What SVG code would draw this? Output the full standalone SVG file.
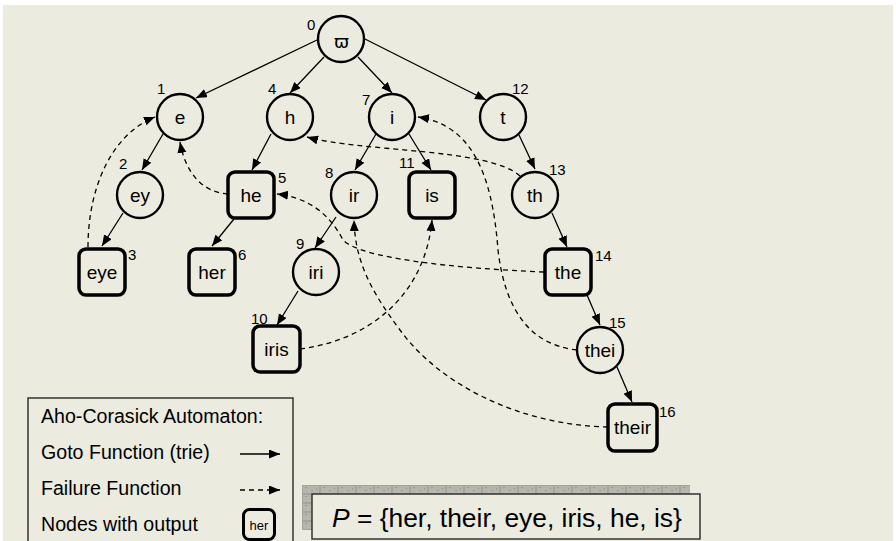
<svg xmlns="http://www.w3.org/2000/svg" width="896" height="541" viewBox="0 0 896 541">
<style>
  .node circle { fill: #EBEBDF; stroke: #000; stroke-width: 2.4; }
  .node rect { fill: #EBEBDF; stroke: #000; stroke-width: 3.5; }
  .lbl { font-family: "Liberation Sans", Arial, sans-serif; font-size: 19px; text-anchor: middle; fill: #000; }
  .num { font-family: "Liberation Sans", Arial, sans-serif; font-size: 15px; fill: #000; }
  .goto { fill: none; stroke: #000; stroke-width: 1.3; marker-end: url(#ah); }
  .fail { fill: none; stroke: #000; stroke-width: 1.3; stroke-dasharray: 5 4; marker-end: url(#ah); }
  .leg { font-family: "Liberation Sans", Arial, sans-serif; font-size: 19.6px; fill: #000; }
</style>
<defs>
  <marker id="ah" markerUnits="userSpaceOnUse" markerWidth="12" markerHeight="10" refX="11" refY="4.5" orient="auto">
    <path d="M0,0 L11,4.5 L0,9 Z" fill="#000"/>
  </marker>
  <pattern id="granite" patternUnits="userSpaceOnUse" width="18" height="9" x="302" y="485">
    <rect width="18" height="9" fill="#A4A49C"/>
    <rect x="1" y="1" width="16" height="7" fill="#B6B6AE"/>
    <rect x="3" y="2" width="2" height="1" fill="#9A9A92"/>
    <rect x="9" y="5" width="2" height="1" fill="#9A9A92"/>
    <rect x="14" y="3" width="1" height="2" fill="#9E9E96"/>
    <rect x="6" y="6" width="1" height="1" fill="#C4C4BC"/>
  </pattern>
</defs>
<rect x="0" y="0" width="896" height="541" fill="#FFFFFF"/>
<rect x="3" y="5" width="890" height="536" fill="#EBEBDF"/>

<g id="connectors">
  <path class="goto" d="M317,40 L196,98"/>
  <path class="goto" d="M324,57 L290,93"/>
  <path class="goto" d="M358,57 L392,93"/>
  <path class="goto" d="M365,39 L486,100"/>
  <path class="goto" d="M163,134 L142,170"/>
  <path class="goto" d="M271,134 L252,170"/>
  <path class="goto" d="M376,134 L355,170"/>
  <path class="goto" d="M409,134 L431,170"/>
  <path class="goto" d="M519,135 L535,169"/>
  <path class="goto" d="M123,213 L102,246"/>
  <path class="goto" d="M234,219 L212,246"/>
  <path class="goto" d="M336,217 L315,248"/>
  <path class="goto" d="M298,291 L277,325"/>
  <path class="goto" d="M552,213 L567,247"/>
  <path class="goto" d="M587,295 L600,325"/>
  <path class="goto" d="M617,367 L632,402"/>
  <path class="fail" d="M88,247 C88,190 110,135 155,117"/>
  <path class="fail" d="M228,194 C200,192 185,170 180,142"/>
  <path class="fail" d="M544,272 C450,268 360,258 343,240 C330,215 310,198 277,194"/>
  <path class="fail" d="M520,176 C490,148 360,152 307,137"/>
  <path class="fail" d="M577,350 C530,345 505,310 498,250 C492,170 470,125 418,117"/>
  <path class="fail" d="M300,349 C370,340 425,295 432,220"/>
  <path class="fail" d="M608,427 C520,425 440,385 400,330 C370,290 355,260 354,220"/>
</g>

<g id="n0" class="node"><circle cx="341" cy="39" r="23"/><text x="341.5" y="48" font-family="DejaVu Sans, sans-serif" font-size="18" text-anchor="middle">ϖ</text><text class="num" x="307" y="30">0</text></g>
<g id="n1" class="node"><circle cx="180" cy="117" r="23"/><text class="lbl" x="180" y="124">e</text><text class="num" x="157" y="94">1</text></g>
<g id="n4" class="node"><circle cx="290" cy="117" r="23"/><text class="lbl" x="290" y="124">h</text><text class="num" x="268" y="94">4</text></g>
<g id="n7" class="node"><circle cx="392" cy="117" r="23"/><text class="lbl" x="392" y="124">i</text><text class="num" x="362" y="105">7</text></g>
<g id="n12" class="node"><circle cx="503" cy="117" r="23"/><text class="lbl" x="503" y="124">t</text><text class="num" x="512" y="94">12</text></g>
<g id="n2" class="node"><circle cx="140" cy="195" r="23"/><text class="lbl" x="140" y="202">ey</text><text class="num" x="119" y="169">2</text></g>
<g id="n5" class="node"><rect x="228" y="172" width="46" height="46" rx="7"/><text class="lbl" x="251" y="202">he</text><text class="num" x="278" y="183">5</text></g>
<g id="n8" class="node"><circle cx="354" cy="195" r="23"/><text class="lbl" x="354" y="202">ir</text><text class="num" x="325" y="178">8</text></g>
<g id="n11" class="node"><rect x="409" y="172" width="46" height="46" rx="7"/><text class="lbl" x="432" y="202">is</text><text class="num" x="399" y="168">11</text></g>
<g id="n13" class="node"><circle cx="535" cy="195" r="23"/><text class="lbl" x="535" y="202">th</text><text class="num" x="549" y="175">13</text></g>
<g id="n3" class="node"><rect x="79" y="249" width="46" height="46" rx="7"/><text class="lbl" x="102" y="279">eye</text><text class="num" x="128" y="260">3</text></g>
<g id="n6" class="node"><rect x="189" y="249" width="46" height="46" rx="7"/><text class="lbl" x="212" y="279">her</text><text class="num" x="238" y="260">6</text></g>
<g id="n9" class="node"><circle cx="316" cy="272" r="23"/><text class="lbl" x="316" y="279">iri</text><text class="num" x="296" y="249">9</text></g>
<g id="n14" class="node"><rect x="545" y="249" width="46" height="46" rx="7"/><text class="lbl" x="568" y="279">the</text><text class="num" x="595" y="261">14</text></g>
<g id="n10" class="node"><rect x="253" y="326" width="47" height="46" rx="7"/><text class="lbl" x="276.5" y="356">iris</text><text class="num" x="251" y="324">10</text></g>
<g id="n15" class="node"><circle cx="600" cy="350" r="23"/><text class="lbl" x="600" y="357">thei</text><text class="num" x="609" y="328">15</text></g>
<g id="n16" class="node"><rect x="608" y="404" width="49" height="47" rx="7"/><text class="lbl" x="632.5" y="434">their</text><text class="num" x="659" y="417">16</text></g>

<g id="legend">
  <rect x="28" y="398" width="265" height="160" fill="#EBEBDF" stroke="#333" stroke-width="1.5"/>
  <text class="leg" x="41" y="423">Aho-Corasick Automaton:</text>
  <text class="leg" x="41" y="459">Goto Function (trie)</text>
  <text class="leg" x="41" y="495">Failure Function</text>
  <text class="leg" x="41" y="531">Nodes with output</text>
  <path class="goto" d="M240,454 L280,454"/>
  <path class="fail" d="M240,490 L280,490" stroke-dasharray="4 3"/>
  <rect x="243.5" y="509.5" width="31" height="30" rx="6" fill="#EBEBDF" stroke="#000" stroke-width="3"/>
  <text x="259" y="530" font-family="Liberation Sans, Arial, sans-serif" font-size="13" text-anchor="middle">her</text>
</g>

<g id="patterns">
  <rect x="302" y="485" width="388" height="45" fill="url(#granite)"/>
  <rect x="312" y="494" width="388" height="45" fill="#EBEBDF" stroke="#333" stroke-width="1.5"/>
  <text x="332" y="527" font-family="Liberation Sans, Arial, sans-serif" font-size="26.4"><tspan font-style="italic">P</tspan> = {her, their, eye, iris, he, is}</text>
</g>
</svg>
